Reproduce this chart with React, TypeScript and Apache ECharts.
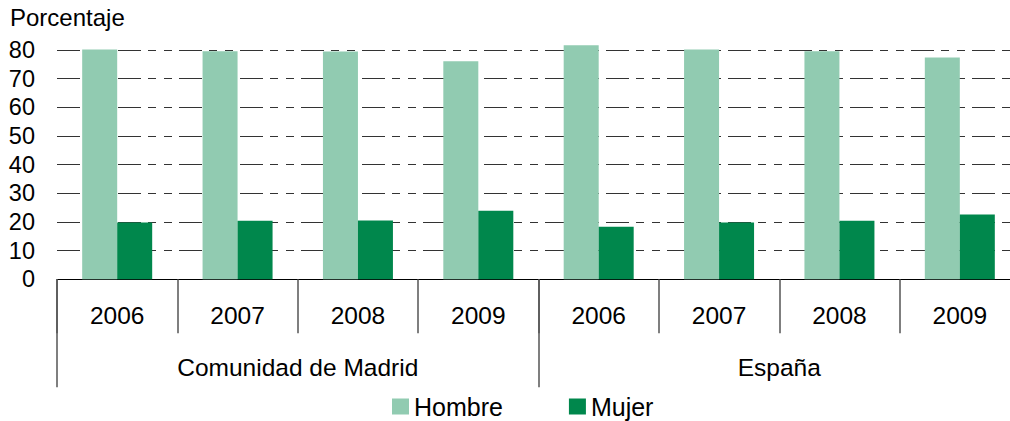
import React, { useEffect, useRef } from "react";
import * as echarts from "echarts";

const years = ["2006", "2007", "2008", "2009", "2006", "2007", "2008", "2009"];
const regions = ["Comunidad de Madrid", "España"];
const hombre = [80.2, 79.6, 79.5, 76.1, 81.7, 80.2, 79.6, 77.4];
const mujer = [19.8, 20.4, 20.5, 23.9, 18.3, 19.8, 20.4, 22.6];
const seriesNames = ["Hombre", "Mujer"];
const yAxisTitle = "Porcentaje";

const FONT = "'Liberation Sans', Arial, sans-serif";

export default function App() {
  const ref = useRef<HTMLDivElement>(null);
  useEffect(() => {
    document.body.style.margin = "0";
    if (!ref.current) return;
    const chart = echarts.init(ref.current, null, { renderer: "svg" });
    chart.setOption({
      animation: false,
      backgroundColor: "#ffffff",
      textStyle: { fontFamily: FONT, color: "#000" },
      grid: { left: 57, top: 50, width: 963, height: 229.3 },
      graphic: [
        {
          type: "text",
          left: 10,
          top: 5,
          style: { text: yAxisTitle, fontSize: 24, fontFamily: FONT, fill: "#000" },
        },
      ],
      legend: {
        data: seriesNames,
        left: 392,
        top: 394,
        padding: 0,
        icon: "rect",
        itemWidth: 17,
        itemHeight: 16,
        itemGap: 66,
        textStyle: { fontSize: 25, fontFamily: FONT, color: "#000" },
      },
      xAxis: [
        {
          type: "category",
          data: years,
          gridIndex: 0,
          position: "bottom",
          axisLine: { show: true, lineStyle: { color: "#000", width: 1 } },
          axisTick: { show: true, length: 54, interval: 0, lineStyle: { color: "#555", width: 1.5 } },
          axisLabel: { interval: 0, margin: 24, fontSize: 24.5, color: "#000", fontFamily: FONT },
          splitLine: { show: false },
        },
        {
          type: "category",
          data: regions,
          gridIndex: 0,
          position: "bottom",
          axisLine: { show: false },
          axisTick: { show: true, length: 108, interval: 0, lineStyle: { color: "#555", width: 1.5 } },
          axisLabel: { interval: 0, margin: 76, fontSize: 24.5, color: "#000", fontFamily: FONT },
          splitLine: { show: false },
        },
      ],
      yAxis: {
        type: "value",
        min: 0,
        max: 80,
        interval: 10,
        axisLine: { show: false },
        axisTick: { show: false },
        axisLabel: { margin: 22, fontSize: 23.5, color: "#000", fontFamily: FONT },
        splitLine: {
          show: true,
          lineStyle: { color: "#333", width: 1, type: [23, 7, 8, 8, 8, 7] },
        },
      },
      series: [
        {
          name: seriesNames[0],
          type: "bar",
          data: hombre,
          xAxisIndex: 0,
          barWidth: 35,
          barGap: "0%",
          clip: false,
          itemStyle: { color: "#91CBB1" },
        },
        {
          name: seriesNames[1],
          type: "bar",
          data: mujer,
          xAxisIndex: 0,
          barWidth: 35,
          barGap: "0%",
          clip: false,
          itemStyle: { color: "#00874C" },
        },
      ],
    });
    return () => chart.dispose();
  }, []);
  return (
    <div style={{ width: 1010, height: 421, overflow: "hidden", position: "relative" }}>
      <div ref={ref} style={{ width: 1022, height: 421 }} />
    </div>
  );
}
